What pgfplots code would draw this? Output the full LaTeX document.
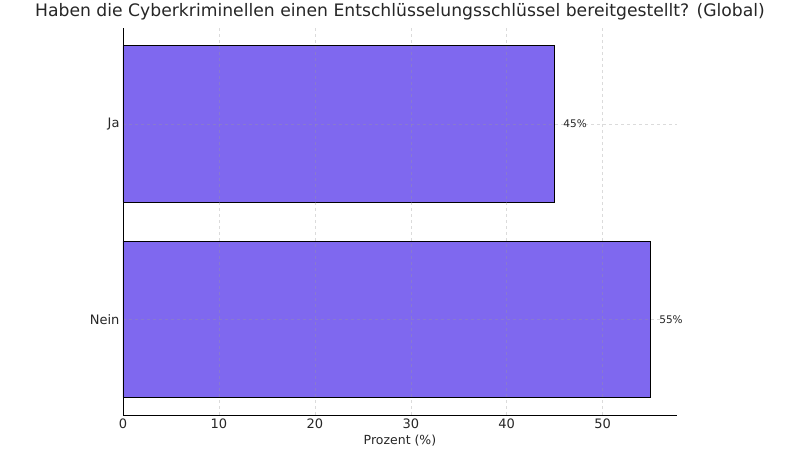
\documentclass[border=0pt]{standalone}
\usepackage{pgfplots}
\pgfplotsset{compat=1.18}
\usepackage{fontspec}
\setmainfont{DejaVu Sans}
\definecolor{barfill}{HTML}{7F68EF}
\definecolor{txt}{HTML}{262626}

\begin{document}
\begin{tikzpicture}
  \path[use as bounding box] (-123pt,-42pt) rectangle (677pt,415pt);
  \begin{axis}[
      at={(0,0)}, anchor=south west,
      scale only axis,
      width=554pt, height=387pt,
      xbar, bar width=0.8,
      xmin=0, xmax=57.75,
      ymin=-0.49, ymax=1.49,
      ytick={0,1}, yticklabels={Nein,Ja},
      xtick={0,10,20,30,40,50},
      axis x line*=bottom, axis y line*=left,
      axis line style={black, line width=0.8pt, -},
      major tick length=0pt,
      grid=major,
      major grid style={dashed, gray!80, draw opacity=0.35, line width=0.5pt},
      axis on top,
      tick label style={font=\fontsize{13}{15}\selectfont, text=txt},
      /pgf/number format/assume math mode=true,
      xlabel={Prozent (\%)},
      xlabel style={font=\fontsize{12.5}{15}\selectfont, text=txt, yshift=0pt},
      title={Haben die Cyberkriminellen einen Entschlüsselungsschlüssel bereitgestellt? (Global)},
      title style={font=\fontsize{17.2}{20}\selectfont, text=txt, yshift=-2pt},
      nodes near coords={\pgfmathprintnumber{\pgfplotspointmeta}\%},
      nodes near coords style={font=\fontsize{10.5}{12}\selectfont, text=txt, anchor=west, xshift=5pt},
    ]
    \addplot[fill=barfill, draw=black, line width=0.8pt] coordinates {(55,0) (45,1)};
  \end{axis}
\end{tikzpicture}
\end{document}
